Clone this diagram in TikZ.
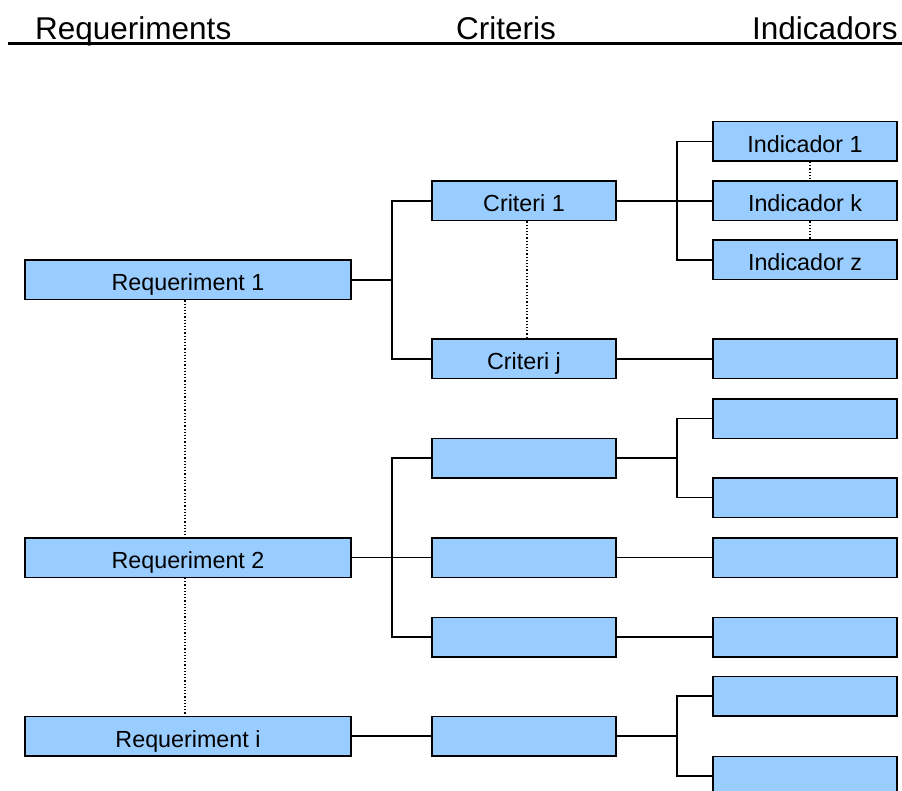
\documentclass[tikz,border=0pt]{standalone}
\usepackage{fontspec}
\setmainfont{Liberation Sans}
\definecolor{boxblue}{HTML}{99CCFF}
\begin{document}
\begin{tikzpicture}[x=1pt,y=-1pt,
  box/.style={draw=black,line width=1.5pt,fill=boxblue,inner sep=0pt,minimum height=39.5pt,text height=22pt,text depth=0pt,font=\fontsize{23.3}{28}\selectfont},
  req/.style={box,minimum width=326pt},
  crit/.style={box,minimum width=184pt},
  ind/.style={box,minimum width=184pt},
  link/.style={line width=1.5pt},
  dots/.style={dotted,line width=1.2pt},
  head/.style={anchor=base west,inner sep=0pt,font=\fontsize{31.5}{36}\selectfont}]
\useasboundingbox (0,0) rectangle (902,791);

% header
\node[head] (hr) at (35,40) {Requeriments};
\node[head] (hc) at (456,40) {Criteris};
\node[head] (hi) at (752,40) {Indicadors};
\coordinate (hl) at (8,44);
\coordinate (hrr) at (902,44);
\draw[line width=3pt] (hl) -- (hrr);

% requirements
\node[req] (r1) at (188,280) {Requeriment 1};
\node[req] (r2) at (188,557.5) {Requeriment 2};
\node[req] (ri) at (188,736) {Requeriment i};

% criteria
\node[crit] (c1) at (524,201) {Criteri 1};
\node[crit] (cj) at (524,359) {Criteri j};
\node[crit] (c3) at (524,458) {};
\node[crit] (c4) at (524,557.5) {};
\node[crit] (c5) at (524,637) {};
\node[crit] (c6) at (524,736) {};

% indicators
\node[ind] (i1) at (805,141.5) {Indicador 1};
\node[ind] (ik) at (805,201) {Indicador k};
\node[ind] (iz) at (805,260) {Indicador z};
\node[ind] (i4) at (805,359) {};
\node[ind] (i5) at (805,418.5) {};
\node[ind] (i6) at (805,497.5) {};
\node[ind] (i7) at (805,557.5) {};
\node[ind] (i8) at (805,637) {};
\node[ind] (i9) at (805,696) {};
\node[ind] (i10) at (805,776) {};

% bracket points
\coordinate (b1) at (392,280);
\coordinate (b2) at (392,557.5);
\coordinate (b3) at (677,201);
\coordinate (b4) at (677,458);
\coordinate (b5) at (677,736);

% requirement -> criteria
\draw[link] (r1.east) -- (b1);
\draw[link] (c1.west) -| (b1) |- (cj.west);
\draw[link] (r2.east) -- (c4.west);
\draw[link] (c3.west) -| (b2) |- (c5.west);
\draw[link] (ri.east) -- (c6.west);

% criteria -> indicators
\draw[link] (c1.east) -- (ik.west);
\draw[link] (i1.west) -| (b3) |- (iz.west);
\draw[link] (cj.east) -- (i4.west);
\draw[link] (c3.east) -- (b4);
\draw[link] (i5.west) -| (b4) |- (i6.west);
\draw[link] (c4.east) -- (i7.west);
\draw[link] (c5.east) -- (i8.west);
\draw[link] (c6.east) -- (b5);
\draw[link] (i9.west) -| (b5) |- (i10.west);

% dotted continuation lines
\draw[dots] ([xshift=-3pt]r1.south) -- ([xshift=-3pt]r2.north);
\draw[dots] ([xshift=-3pt]r2.south) -- ([xshift=-3pt]ri.north);
\draw[dots] ([xshift=3pt]c1.south) -- ([xshift=3pt]cj.north);
\draw[dots] ([xshift=5pt]i1.south) -- ([xshift=5pt]ik.north);
\draw[dots] ([xshift=5pt]ik.south) -- ([xshift=5pt]iz.north);
\end{tikzpicture}
\end{document}
